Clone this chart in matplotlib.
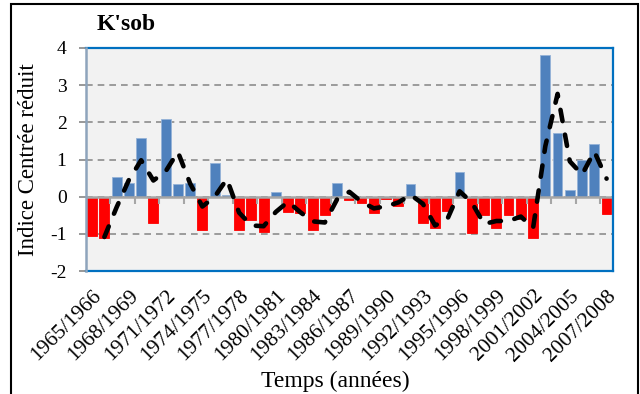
import matplotlib
matplotlib.use("Agg")
import matplotlib.pyplot as plt
import numpy as np
import pandas as pd
from matplotlib.patches import Rectangle

# ---- data ----
years = [f"{y}/{y+1}" for y in range(1965, 2008)]
values = [-1.07, -1.10, 0.53, 0.37, 1.59, -0.72, 2.08, 0.33, 0.38, -0.91,
          0.90, 0.05, -0.91, -0.64, -0.95, 0.13, -0.40, -0.44, -0.89, -0.50,
          0.36, -0.10, -0.18, -0.45, -0.07, -0.24, 0.34, -0.72, -0.83, -0.38,
          0.67, -0.99, -0.48, -0.83, -0.48, -0.59, -1.10, 3.82, 1.71, 0.19,
          1.00, 1.43, -0.46]
title = "K'sob"
ylabel = "Indice Centrée réduit"
xlabel = "Temps (années)"
yticks = [-2, -1, 0, 1, 2, 3, 4]

plt.rcParams['font.family'] = ['Liberation Serif', 'DejaVu Serif']

x = np.arange(len(values))
vals = np.array(values)
colors = np.where(vals >= 0, '#4F81BD', '#FF0000')
edges = np.where(vals >= 0, '#95B3D7', '#FF0000')
ma = pd.Series(vals).rolling(2).mean()

fig = plt.figure(figsize=(6.4, 3.94), dpi=100)
ax = fig.add_axes([86/640, 123/394, 526.7/640, 223/394])
ax.set_facecolor('#F2F2F2')

ax.bar(x, vals, width=0.8, color=colors, edgecolor=edges, linewidth=0.6, zorder=2)
ax.axhline(0, color='#A6A6A6', lw=1.8, zorder=2.5)
ax.plot(x, ma, color='black', lw=3.3, linestyle=(0, (2.5, 3.0)),
        dash_capstyle='round', zorder=4)

ax.set_xlim(-0.5, len(values) - 0.5)
ax.set_ylim(-2, 4)
ax.set_yticks(yticks)
ax.set_yticklabels([str(t) for t in yticks])
ax.yaxis.grid(True, color='#8C8C8C', linestyle=(0, (4, 3)), lw=1.2, zorder=1)
ax.set_axisbelow(True)

ax.set_xticks(x[::3])
ax.set_xticklabels(years[::3], rotation=45, ha='right', va='top',
                   rotation_mode='anchor', fontsize=15.5)
ax.tick_params(axis='x', length=0, pad=11)
ax.tick_params(axis='y', length=5, width=1.2, color='#868686', pad=9, labelsize=14)

for s in ['top', 'right', 'bottom']:
    ax.spines[s].set_color('#0070C0')
    ax.spines[s].set_linewidth(1.6)
ax.spines['left'].set_color('#8EA4BC')
ax.spines['left'].set_linewidth(1.8)
ax.spines['left'].set_zorder(5)

# zero-axis tick marks
sec = ax.secondary_xaxis(1/3)
sec.set_xticks(np.arange(1.5, len(values) - 1, 2))
sec.set_xticklabels([])
sec.tick_params(length=5, width=1.5, color='#A6A6A6', direction='out')
sec.spines['bottom'].set_visible(False)
sec.spines['top'].set_visible(False)
sec.set_zorder(3)

ax.set_ylabel(ylabel, fontsize=16.5)
ax.yaxis.set_label_coords(-0.089, 0.5)
fig.text(335/640, 1 - 381/394, xlabel, ha='center', va='center', fontsize=17)
fig.text(126/640, 1 - 25/394, title, ha='center', va='center',
         fontsize=17, fontweight='bold')

fig.add_artist(Rectangle((11/640, -0.1), (638 - 11)/640, 1.1 - 4/394,
                         transform=fig.transFigure, fill=False,
                         lw=1.5, ec='black'))

fig.savefig('out.png', dpi=100)
